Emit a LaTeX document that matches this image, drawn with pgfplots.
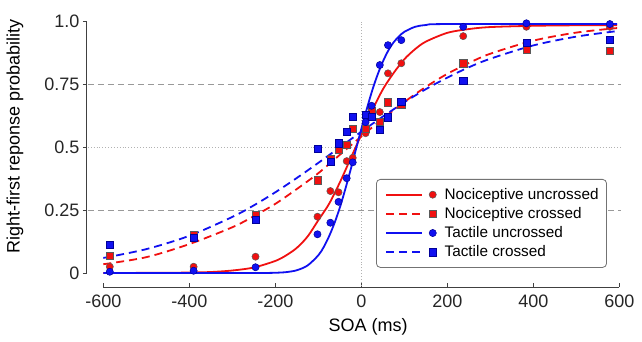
\documentclass[border=0pt]{standalone}
\usepackage{fontspec}
\setmainfont{Liberation Sans}
\usepackage{pgfplots}
\pgfplotsset{compat=1.18}
\definecolor{myred}{RGB}{240,16,16}
\definecolor{myblue}{RGB}{16,16,240}
\pgfplotsset{
  curvelegend/.style={legend image code/.code={\path (-3bp,0bp); \draw[##1, line width=2.1bp] (0bp,0bp) -- (36bp,0bp);}},
  marklegend/.style={legend image code/.code={\path (-5bp,0bp); \draw[##1] plot coordinates {(0bp,0bp)}; \path (9.5bp,0bp);}},
}

\begin{document}
\begin{tikzpicture}
\begin{axis}[
  scale only axis, width=536.6bp, height=270.6bp,
  xmin=-638, xmax=610, ymin=-0.056, ymax=1.02,
  axis x line*=bottom, axis y line*=left,
  axis line style={draw=none},
  xtick={-600,-400,-200,0,200,400,600},
  xticklabels={-600,-400,-200,0,200,400,600},
  ytick={0,0.25,0.5,0.75,1},
  yticklabels={0,0.25,0.5,0.75,1.0},
  tick align=outside,
  major tick length=4bp,
  xtick style={black!75, line width=0.8bp, yshift=4bp},
  ytick style={black!75, line width=0.8bp},
  tick label style={font=\fontsize{18bp}{20bp}\selectfont, text=black!85},
  every axis x label/.style={at={(axis description cs:0.524,-0.147)}, anchor=center, font=\fontsize{18bp}{20bp}\selectfont},
  every axis y label/.style={at={(axis description cs:-0.134,0.558)}, anchor=center, rotate=90, font=\fontsize{18bp}{20bp}\selectfont},
  xlabel={SOA (ms)}, ylabel={Right-first reponse probability},
  clip=false,
  legend columns=2,
  legend style={at={(axis description cs:0.969,0.3995)}, anchor=north east, draw=black!55, rounded corners=4bp, line width=0.8bp, font=\fontsize{15.3bp}{17bp}\selectfont, inner xsep=6bp, inner ysep=7bp, row sep=2.6bp},
  legend cell align=left,
]
% reference lines
\draw[gray!80, line width=0.9bp, dash pattern=on 6bp off 4bp] (axis cs:-636,0.25) -- (axis cs:605,0.25);
\draw[gray!80, line width=0.9bp, dash pattern=on 6bp off 4bp] (axis cs:-636,0.75) -- (axis cs:605,0.75);
\draw[gray!60, line width=0.9bp, dotted] (axis cs:-636,0.5) -- (axis cs:605,0.5);
\draw[gray!60, line width=0.9bp, dotted] (axis cs:0,-0.05) -- (axis cs:0,1.0);
% axis lines
\draw[black!75, line width=1bp] (axis cs:-600,-0.056) -- (axis cs:600,-0.056);
\draw[black!75, line width=1bp] (axis cs:-638,0) -- (axis cs:-638,1);

% Nociceptive uncrossed
\addplot[myred, line width=1.8bp, smooth, curvelegend] coordinates {
(-600,0.0) (-450,0.001) (-400,0.002) (-350,0.004) (-300,0.010) (-250,0.022) (-200,0.048)
(-175,0.07) (-150,0.10) (-125,0.145) (-100,0.21) (-75,0.275) (-50,0.36) (-25,0.455)
(0,0.55) (25,0.645) (50,0.73) (75,0.795) (100,0.85) (125,0.89) (150,0.92) (200,0.955)
(250,0.97) (300,0.978) (400,0.983) (500,0.985) (595,0.985)};
\addlegendentry{}
\addplot[only marks, mark=*, mark size=3.6bp, mark options={fill=myred, draw=black!65, line width=0.5bp}, marklegend]
coordinates {
(-585,0.025) (-390,0.025) (-246,0.065) (-102,0.224) (-72,0.326) (-53,0.321) (-34,0.445)
(-20,0.458) (10,0.556) (24,0.650) (43,0.640) (62,0.794) (93,0.834) (237,0.942) (384,0.979) (578,0.979)};
\addlegendentry{Nociceptive uncrossed}

% Nociceptive crossed
\addplot[myred, line width=1.8bp, dash pattern=on 8bp off 5bp, smooth, curvelegend] coordinates {
(-600,0.035) (-500,0.063) (-400,0.115) (-300,0.182) (-250,0.226) (-200,0.275) (-150,0.334)
(-100,0.397) (-50,0.47) (0,0.543) (50,0.614) (100,0.68) (150,0.74) (200,0.792) (250,0.835)
(300,0.872) (400,0.924) (500,0.956) (595,0.974)};
\addlegendentry{}
\addplot[only marks, mark=square*, mark size=3.6bp, mark options={fill=myred, draw=black!65, line width=0.5bp, solid}, marklegend]
coordinates {
(-585,0.069) (-390,0.150) (-246,0.231) (-102,0.369) (-72,0.453) (-53,0.489) (-34,0.510)
(-20,0.575) (10,0.575) (24,0.645) (43,0.602) (62,0.679) (93,0.668) (237,0.834) (384,0.887) (578,0.884)};
\addlegendentry{Nociceptive crossed}

% Tactile uncrossed
\addplot[myblue, line width=1.8bp, smooth, curvelegend] coordinates {
(-600,0.0) (-250,0.0) (-225,0.0002) (-200,0.001) (-175,0.0035) (-150,0.011) (-125,0.03)
(-100,0.0705) (-87.5,0.103) (-75,0.146) (-62.5,0.198) (-50,0.26) (-37.5,0.332) (-25,0.41)
(-12.5,0.492) (0,0.573) (12.5,0.651) (25,0.724) (37.5,0.787) (50,0.84) (62.5,0.884)
(75,0.917) (87.5,0.941) (100,0.959) (125,0.979) (150,0.986) (200,0.99) (595,0.99)};
\addlegendentry{}
\addplot[only marks, mark=*, mark size=3.6bp, mark options={fill=myblue, draw=blue!60!black, line width=0.5bp}, marklegend]
coordinates {
(-585,0.005) (-390,0.009) (-246,0.023) (-102,0.154) (-72,0.200) (-53,0.283) (-34,0.377)
(-20,0.440) (10,0.600) (24,0.665) (43,0.827) (62,0.906) (93,0.926) (237,0.979) (384,0.993) (578,0.990)};
\addlegendentry{Tactile uncrossed}

% Tactile crossed
\addplot[myblue, line width=1.8bp, dash pattern=on 8bp off 5bp, smooth, curvelegend] coordinates {
(-600,0.060) (-500,0.095) (-400,0.148) (-300,0.223) (-250,0.269) (-200,0.321) (-150,0.378)
(-100,0.438) (-50,0.5) (0,0.562) (50,0.622) (100,0.679) (150,0.731) (200,0.777) (250,0.818)
(300,0.852) (400,0.905) (500,0.94) (595,0.962)};
\addlegendentry{}
\addplot[only marks, mark=square*, mark size=3.6bp, mark options={fill=myblue, draw=blue!60!black, line width=0.5bp, solid}, marklegend]
coordinates {
(-585,0.111) (-390,0.139) (-246,0.211) (-102,0.493) (-72,0.443) (-53,0.516) (-34,0.562)
(-20,0.620) (10,0.630) (24,0.620) (43,0.571) (62,0.619) (93,0.680) (237,0.765) (384,0.916) (578,0.929)};
\addlegendentry{Tactile crossed}
\end{axis}
\path ([xshift=-87bp,yshift=-54.9bp]current axis.south west) rectangle ([xshift=18.4bp,yshift=16.5bp]current axis.north east);
\end{tikzpicture}
\end{document}
